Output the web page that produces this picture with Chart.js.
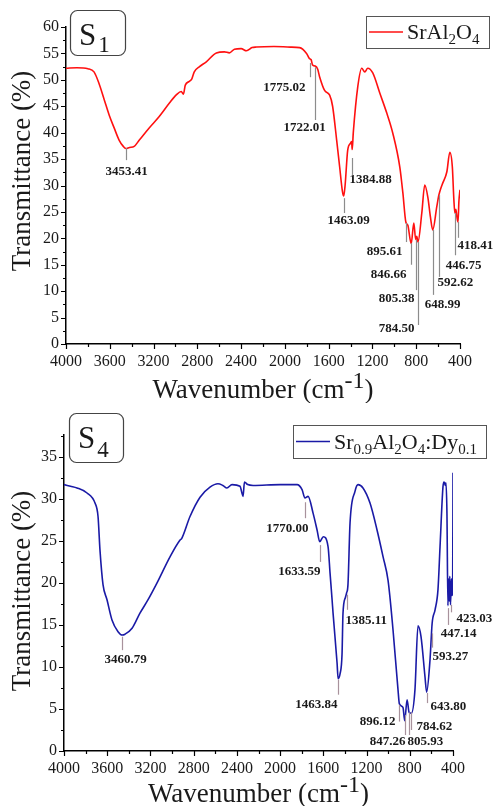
<!DOCTYPE html>
<html lang="en">
<head>
    <meta charset="UTF-8">
    <title>FTIR spectra S1 / S4</title>
    <style>
        html, body { margin: 0; padding: 0; background: #fff; }
        canvas { display: block; }
    </style>
</head>
<body>
    <canvas id="chartS1" width="495" height="403"></canvas>
    <canvas id="chartS4" width="495" height="403"></canvas>

    <script src="https://cdn.jsdelivr.net/npm/chart.js"></script>
    <script>
        // ---- S1 : SrAl2O4 ----
        const s1Wavenumber = [4000, 3900, 3800, 3744, 3700, 3650, 3605, 3560, 3515, 3480,
            3453, 3420, 3377, 3330, 3240, 3150, 3055, 2990, 2947, 2927,
            2910, 2873, 2850, 2828, 2780, 2718, 2626, 2553, 2507, 2461,
            2400, 2351, 2300, 2260, 2100, 1950, 1866, 1802, 1775, 1760,
            1747, 1722, 1700, 1683, 1637, 1591, 1564, 1527, 1500, 1475,
            1463, 1450, 1426, 1400, 1390, 1385, 1375, 1334, 1298, 1270,
            1243, 1197, 1133, 1069, 1014, 950, 922, 895, 877, 846,
            822, 805, 795, 784, 749, 722, 694, 670, 649, 612,
            593, 575, 557, 520, 493, 470, 456, 447, 438, 428,
            418, 410, 400];
        const s1Transmittance = [52.2, 52.3, 52.1, 51.5, 49.4, 46.2, 43.3, 40.9, 38.6, 37.5,
            37.0, 37.2, 37.4, 38.6, 40.9, 43.0, 45.6, 47.2, 47.8, 47.3,
            49.0, 49.7, 50.2, 51.5, 52.5, 53.4, 55.1, 55.3, 55.1, 55.8,
            55.9, 55.5, 56.1, 56.2, 56.3, 56.2, 56.1, 55.0, 54.0, 53.8,
            52.8, 52.6, 52.0, 50.6, 48.0, 47.1, 45.0, 38.6, 33.6, 29.0,
            28.0, 30.0, 36.7, 38.0, 38.3, 36.8, 40.0, 48.7, 52.2, 51.5,
            52.2, 51.3, 47.5, 43.7, 39.9, 33.5, 28.6, 23.1, 22.5, 19.0,
            22.9, 19.8, 20.4, 19.3, 24.8, 30.1, 27.8, 24.0, 21.6, 26.0,
            28.2, 29.5, 30.5, 32.6, 36.3, 33.5, 27.3, 24.8, 25.5, 24.0,
            23.1, 27.0, 29.2];
        const s1PeakLabels = ['3453.41', '1775.02', '1722.01', '1463.09', '1384.88', '895.61', '846.66',
            '805.38', '784.50', '648.99', '592.62', '446.75', '418.41'];
        const s1PeakFrom = [37.1, 53.2, 52.4, 27.6, 35.2, 22.9, 19.1, 19.7, 19.3, 21.6, 28.2, 24.8, 23.1];
        const s1PeakTo = [34.8, 50.5, 42.4, 24.8, 32.0, 19.3, 15.0, 10.2, 3.6, 9.3, 12.7, 16.8, 20.1];

        // ---- S4 : Sr0.9Al2O4:Dy0.1 ----
        const s4Wavenumber = [4000, 3940, 3880, 3787, 3713, 3685, 3667, 3639, 3602, 3556,
            3500, 3461, 3435, 3370, 3297, 3222, 3139, 3019, 2926, 2910,
            2834, 2741, 2649, 2575, 2530, 2492, 2445, 2371, 2355, 2343,
            2330, 2300, 2250, 2000, 1843, 1797, 1770, 1741, 1695, 1658,
            1633, 1600, 1556, 1538, 1519, 1510, 1473, 1463, 1445, 1427,
            1418, 1395, 1385, 1372, 1353, 1307, 1279, 1233, 1168, 1103,
            1047, 1001, 955, 909, 896, 863, 847, 825, 806, 785,
            752, 724, 696, 659, 644, 613, 593, 566, 539, 520,
            493, 483, 470, 465, 456, 447, 440, 435, 430, 423,
            415, 410, 403, 400];
        const s4Transmittance = [31.7, 31.5, 31.3, 30.7, 29.5, 27.9, 23.9, 19.8, 18.0, 15.6,
            14.2, 13.8, 13.9, 14.6, 16.4, 18.0, 20.0, 23.1, 25.1, 25.3,
            27.9, 30.2, 31.4, 31.8, 31.6, 31.3, 31.7, 31.5, 30.8, 30.3,
            32.0, 31.7, 31.6, 31.7, 31.7, 31.1, 30.1, 30.3, 28.3, 26.3,
            24.9, 25.5, 24.3, 21.2, 18.0, 16.4, 10.5, 8.6, 9.2, 11.5,
            16.4, 18.3, 18.8, 19.8, 27.1, 30.9, 31.7, 31.3, 29.5, 26.3,
            23.1, 20.3, 14.4, 7.3, 5.6, 5.2, 3.6, 6.1, 4.6, 4.5,
            7.3, 14.9, 13.6, 8.8, 7.0, 10.8, 15.2, 16.8, 19.2, 24.3,
            31.4, 32.0, 31.6, 31.9, 28.3, 17.3, 20.5, 17.8, 20.8, 17.4,
            20.5, 18.5, 19.5, 33.1];
        const s4PeakLabels = ['3460.79', '1770.00', '1633.59', '1463.84', '1385.11', '896.12', '847.26',
            '805.93', '784.62', '643.80', '593.27', '447.14', '423.03'];
        const s4PeakFrom = [13.6, 29.6, 24.5, 8.5, 18.6, 5.5, 4.3, 4.6, 4.6, 6.9, 14.0, 17.0, 17.4];
        const s4PeakTo = [12.0, 27.7, 22.5, 6.7, 16.8, 3.5, 1.9, 1.9, 2.5, 5.7, 12.3, 15.0, 16.5];

        const xTicks = [4000, 3600, 3200, 2800, 2400, 2000, 1600, 1200, 800, 400];

        // label placement relative to the bottom of each marker line: [dx, dy, align]
        const s1LabelPlace = [[0, 12, 'center'], [-5, 10, 'right'], [-11, 8, 'center'], [4, 8, 'center'],
            [-3, 5, 'left'], [-4, 10, 'right'], [-5, 10, 'right'], [-2, 9, 'right'], [-4, 4, 'right'],
            [9, 10, 'center'], [-2, 6, 'left'], [8, 10, 'center'], [-1, 8, 'left']];
        const s4LabelPlace = [[3, 9, 'center'], [3, 10, 'right'], [0, 10, 'right'], [-1, 10, 'right'],
            [-2, 11, 'left'], [-4, 0, 'right'], [0, 7, 'right'], [-2, 7, 'left'], [5, -3, 'left'],
            [3, 4, 'left'], [0, 9, 'left'], [10, 9, 'center'], [5, 6, 'left']];

        const SERIF = '"Liberation Serif", "Times New Roman", serif';

        // draw a run of text pieces (sub/superscripts use dy)
        function drawRich(ctx, parts, x, y, align) {
            let w = 0;
            parts.forEach(p => { ctx.font = p.size + 'px ' + SERIF; w += ctx.measureText(p.t).width + (p.gap || 0); });
            let cx = align === 'center' ? x - w / 2 : x;
            parts.forEach(p => {
                ctx.font = p.size + 'px ' + SERIF;
                cx += p.gap || 0;
                ctx.fillText(p.t, cx, y + (p.dy || 0));
                cx += ctx.measureText(p.t).width;
            });
        }

        function panelDecor(p) {
            return {
                id: 'panelDecor',
                afterDraw(chart) {
                    const { ctx, chartArea } = chart;
                    const xs = chart.scales.x, ys = chart.scales.y;
                    ctx.save();

                    // major / minor tick marks, outward
                    ctx.strokeStyle = '#000';
                    ctx.lineWidth = 1.2;
                    ctx.beginPath();
                    for (let w = 400; w <= 4000; w += 200) {
                        const px = Math.round(xs.getPixelForValue(w)) + 0.5;
                        const len = w % 400 === 0 ? 5 : 3;
                        ctx.moveTo(px, chartArea.bottom);
                        ctx.lineTo(px, chartArea.bottom + len);
                    }
                    for (let v = 0; v <= ys.max + 0.01; v += 2.5) {
                        const py = Math.round(ys.getPixelForValue(v)) + 0.5;
                        const len = v % 5 === 0 ? 5 : 3;
                        ctx.moveTo(chartArea.left, py);
                        ctx.lineTo(chartArea.left - len, py);
                    }
                    ctx.stroke();

                    // peak markers and labels
                    ctx.lineWidth = 1.2;
                    ctx.strokeStyle = p.markColor;
                    ctx.fillStyle = '#1a1a1a';
                    ctx.font = 'bold 13px ' + SERIF;
                    ctx.textBaseline = 'middle';
                    p.labels.forEach((lab, i) => {
                        const px = Math.round(xs.getPixelForValue(parseFloat(lab))) + 0.5;
                        const y0 = ys.getPixelForValue(p.from[i]);
                        const y1 = ys.getPixelForValue(p.to[i]);
                        ctx.beginPath();
                        ctx.moveTo(px, y0);
                        ctx.lineTo(px, y1);
                        ctx.stroke();
                        const [dx, dy, align] = p.place[i];
                        ctx.textAlign = align;
                        ctx.fillText(lab, px + dx, y1 + dy);
                    });

                    // legend box
                    ctx.textAlign = 'left';
                    ctx.textBaseline = 'alphabetic';
                    const lg = p.legend;
                    ctx.strokeStyle = '#555';
                    ctx.lineWidth = 1;
                    ctx.strokeRect(lg.x + 0.5, lg.y + 0.5, lg.w, lg.h);
                    ctx.strokeStyle = p.color;
                    ctx.lineWidth = 1.6;
                    ctx.beginPath();
                    ctx.moveTo(lg.x + 3, lg.y + lg.h / 2);
                    ctx.lineTo(lg.x + 37, lg.y + lg.h / 2);
                    ctx.stroke();
                    ctx.fillStyle = '#1a1a1a';
                    drawRich(ctx, lg.parts, lg.x + 41, lg.y + lg.base, 'left');

                    // sample tag (rounded box)
                    const tg = p.tag;
                    ctx.strokeStyle = '#444';
                    ctx.lineWidth = 1.2;
                    ctx.beginPath();
                    ctx.roundRect(tg.x + 0.5, tg.y + 0.5, tg.w, tg.h, 7);
                    ctx.stroke();
                    drawRich(ctx, [{ t: 'S', size: 31 }, { t: tg.sub, size: 23, dy: tg.subDy, gap: 2 }],
                        tg.x + 9, tg.y + 35, 'left');

                    // axis titles
                    const cx = (chartArea.left + chartArea.right) / 2;
                    drawRich(ctx, [{ t: 'Wavenumber (cm', size: 27 }, { t: '-1', size: 24, dy: -10 }, { t: ')', size: 27 }],
                        cx, p.xTitleBase, 'center');
                    ctx.save();
                    ctx.translate(30, p.yTitleCenter);
                    ctx.rotate(-Math.PI / 2);
                    drawRich(ctx, [{ t: 'Transmittance (%)', size: 27 }], 0, 0, 'center');
                    ctx.restore();

                    ctx.restore();
                }
            };
        }

        function makeChart(id, wn, tr, color, yMax, pad, xH, yW, decor) {
            return new Chart(document.getElementById(id), {
                type: 'line',
                data: {
                    datasets: [{
                        data: wn.map((w, i) => ({ x: w, y: tr[i] })),
                        borderColor: color,
                        borderWidth: 1.6,
                        pointRadius: 0,
                        cubicInterpolationMode: 'monotone',
                        fill: false
                    }]
                },
                options: {
                    responsive: false,
                    animation: false,
                    layout: { padding: pad },
                    plugins: { legend: { display: false }, tooltip: { enabled: false } },
                    scales: {
                        x: {
                            type: 'linear', reverse: true, min: 400, max: 4000,
                            grid: { display: false, drawTicks: false },
                            border: { display: true, color: '#000', width: 1.5 },
                            afterBuildTicks: s => { s.ticks = xTicks.map(v => ({ value: v })); },
                            ticks: {
                                padding: 8, maxRotation: 0, autoSkip: false, color: '#1a1a1a',
                                font: { family: SERIF, size: 16 },
                                callback: v => String(v)
                            },
                            afterFit: s => { s.height = xH; }
                        },
                        y: {
                            min: 0, max: yMax,
                            grid: { display: false, drawTicks: false },
                            border: { display: true, color: '#000', width: 1.5 },
                            ticks: { stepSize: 5, includeBounds: false, padding: 7, color: '#1a1a1a', font: { family: SERIF, size: 16 } },
                            afterFit: s => { s.width = yW; }
                        }
                    }
                },
                plugins: [decor]
            });
        }

        makeChart('chartS1', s1Wavenumber, s1Transmittance, '#ff1010', 60,
            { left: 0, right: 35, top: 27, bottom: 0 }, 59, 66,
            panelDecor({
                color: '#ff1010', markColor: '#8c8c8c',
                labels: s1PeakLabels, from: s1PeakFrom, to: s1PeakTo, place: s1LabelPlace,
                legend: { x: 366, y: 16, w: 123, h: 32, base: 23,
                    parts: [{ t: 'SrAl', size: 22 }, { t: '2', size: 15, dy: 5 }, { t: 'O', size: 22 }, { t: '4', size: 15, dy: 5 }] },
                tag: { x: 70, y: 10, w: 55, h: 45, sub: '1', subDy: 7 },
                xTitleBase: 398, yTitleCenter: 171
            }));

        makeChart('chartS4', s4Wavenumber, s4Transmittance, '#1a1aa6', 37.6,
            { left: 0, right: 42, top: 32, bottom: 0 }, 55, 64,
            panelDecor({
                color: '#1a1aa6', markColor: '#a8929c',
                labels: s4PeakLabels, from: s4PeakFrom, to: s4PeakTo, place: s4LabelPlace,
                legend: { x: 293, y: 22, w: 193, h: 33, base: 24,
                    parts: [{ t: 'Sr', size: 22 }, { t: '0.9', size: 15, dy: 5 }, { t: 'Al', size: 22 }, { t: '2', size: 15, dy: 5 },
                        { t: 'O', size: 22 }, { t: '4', size: 15, dy: 5 }, { t: ':Dy', size: 22 }, { t: '0.1', size: 15, dy: 5 }] },
                tag: { x: 69, y: 10, w: 54, h: 49, sub: '4', subDy: 9 },
                xTitleBase: 399, yTitleCenter: 188
            }));
    </script>
</body>
</html>
